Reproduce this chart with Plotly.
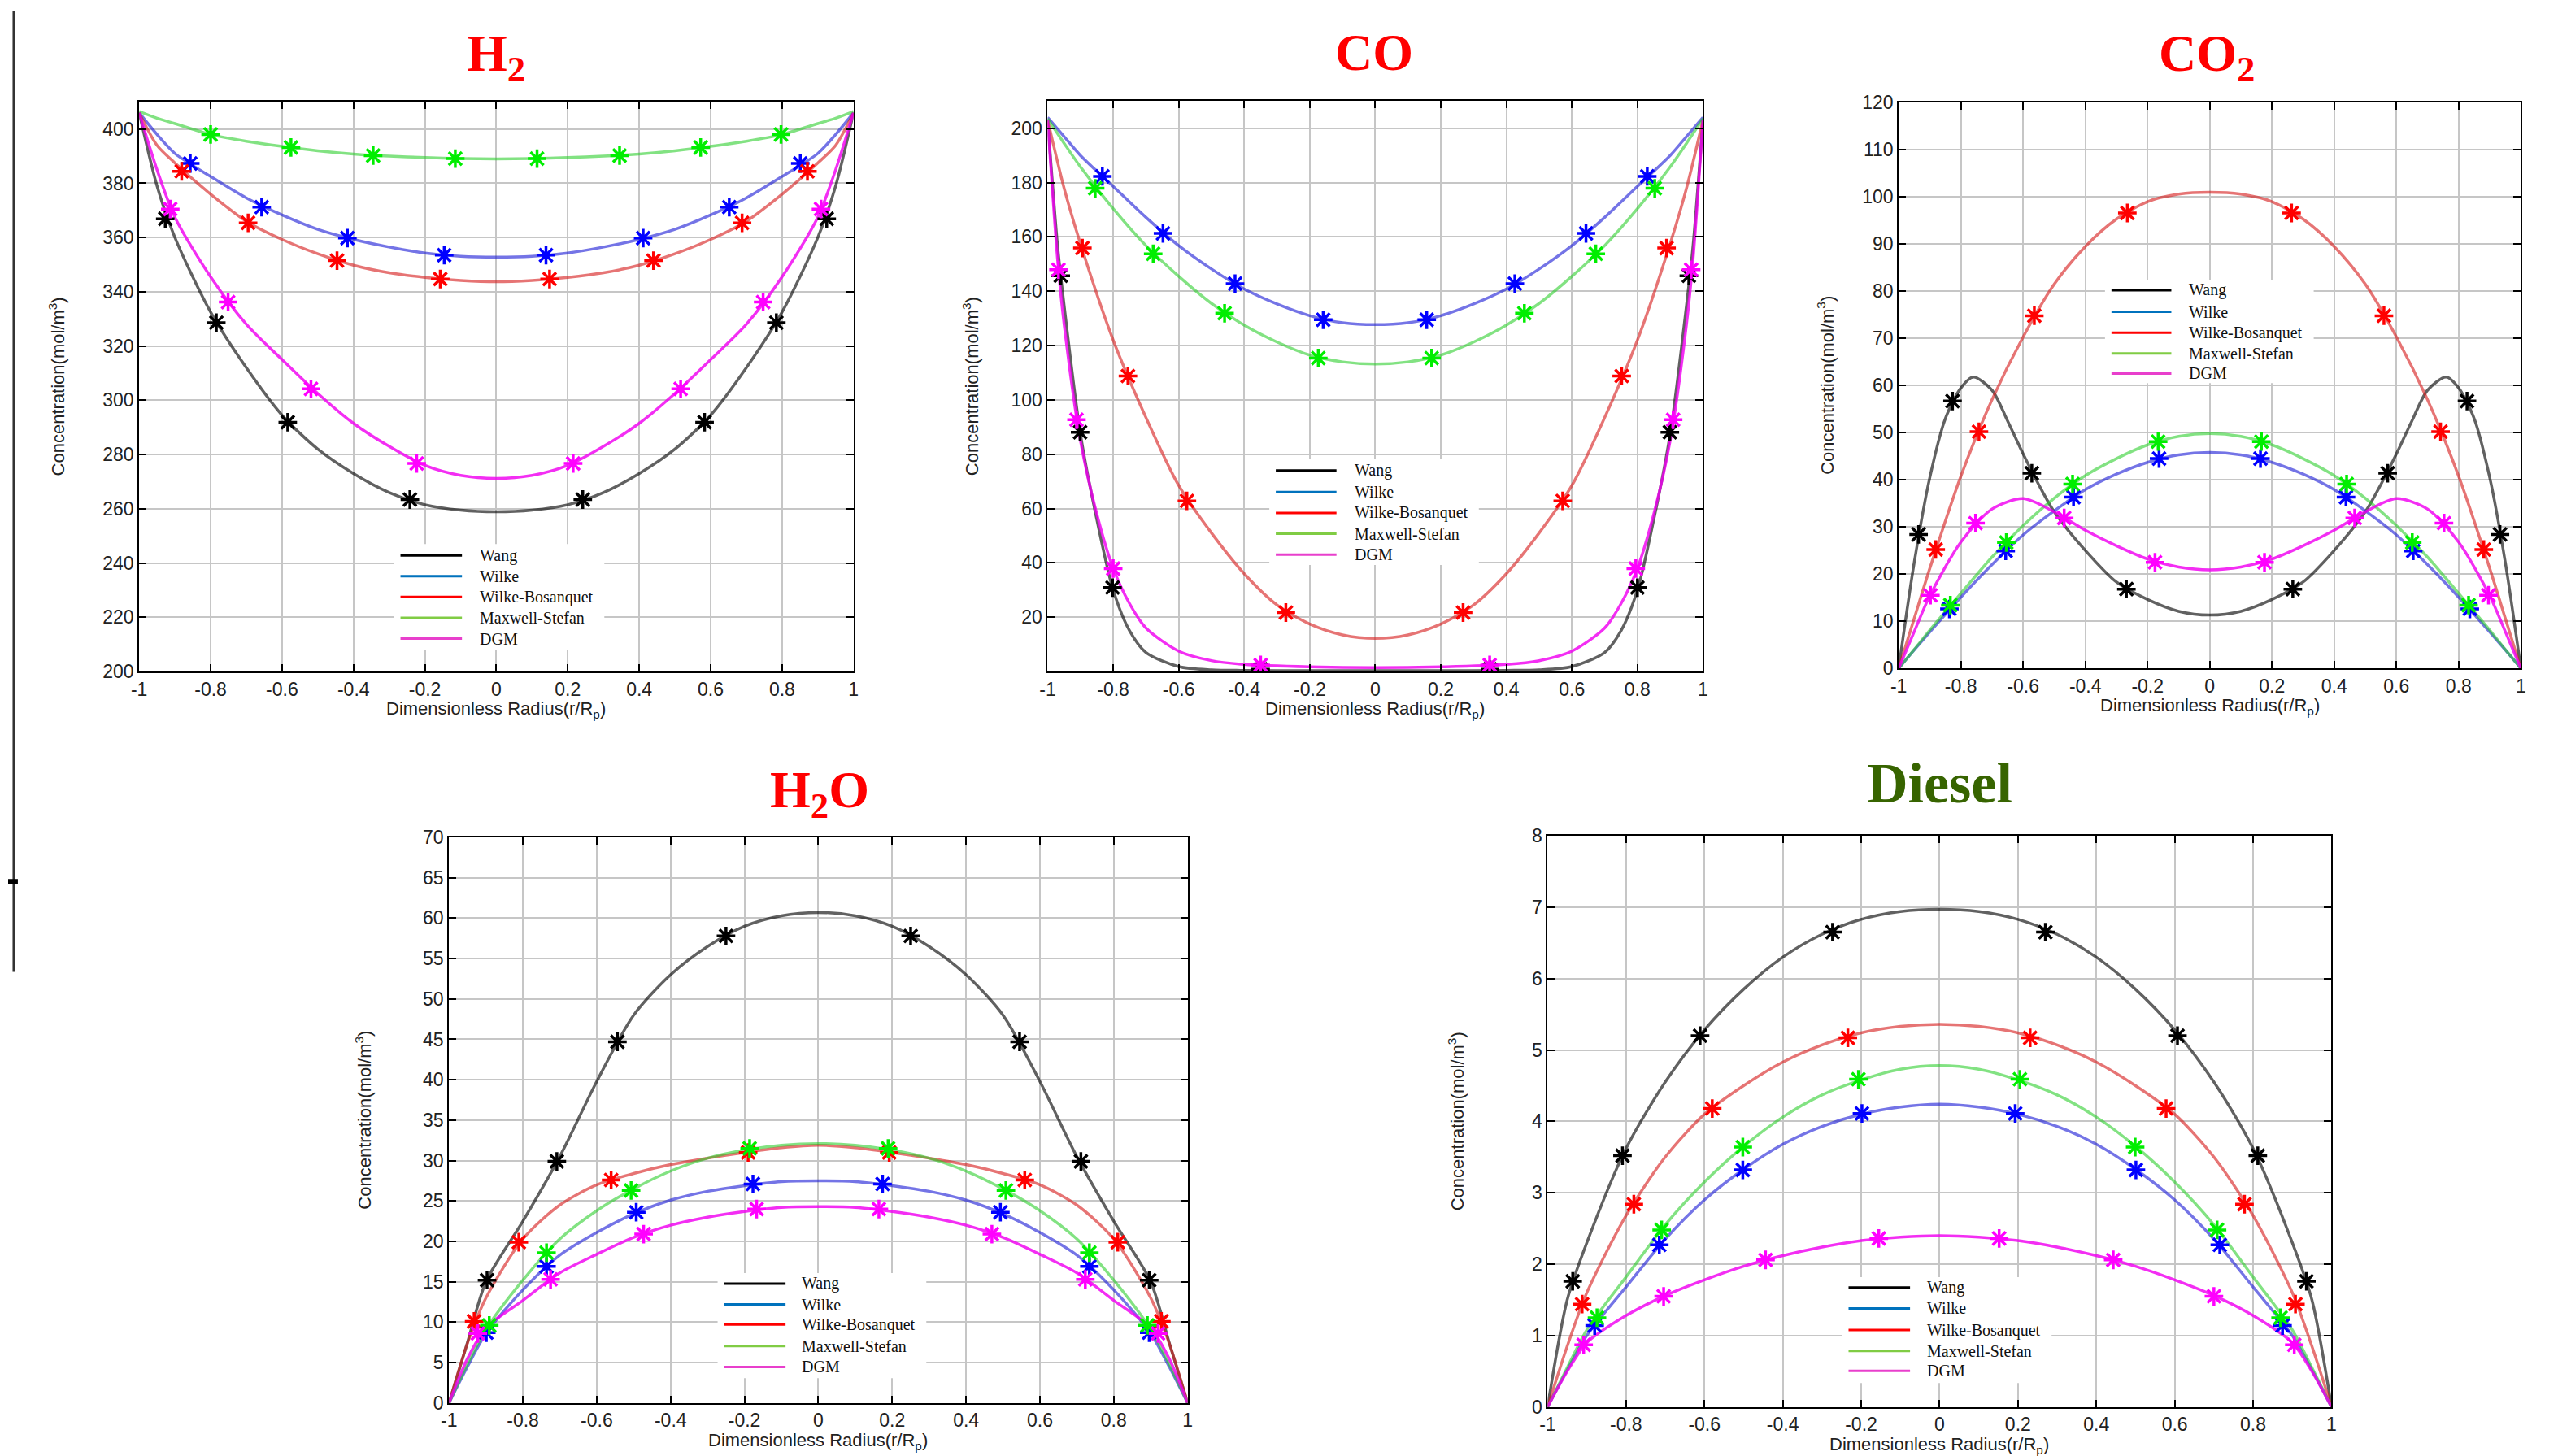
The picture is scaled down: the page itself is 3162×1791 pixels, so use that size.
import plotly.graph_objects as go

W, H = 3162, 1791

# ---------------- data ----------------
SERIES = ["Wang", "Wilke", "Wilke-Bosanquet", "Maxwell-Stefan", "DGM"]

X_STD = [-1, -0.95, -0.9, -0.8, -0.7, -0.6, -0.5, -0.4, -0.3, -0.2, -0.1, 0,
         0.1, 0.2, 0.3, 0.4, 0.5, 0.6, 0.7, 0.8, 0.9, 0.95, 1]
X_CO_EDGE = [-1, -0.97, -0.95, -0.9, -0.85, -0.8, -0.75, -0.7, -0.6, -0.5, -0.4, -0.2, 0,
             0.2, 0.4, 0.5, 0.6, 0.7, 0.75, 0.8, 0.85, 0.9, 0.95, 0.97, 1]
X_CO2_WANG = [-1, -0.95, -0.9, -0.85, -0.8, -0.76, -0.7, -0.65, -0.6, -0.55, -0.5, -0.4, -0.3, -0.2, -0.1, 0,
              0.1, 0.2, 0.3, 0.4, 0.5, 0.55, 0.6, 0.65, 0.7, 0.76, 0.8, 0.85, 0.9, 0.95, 1]

# H2
h2_wang = [406, 379, 360, 332.5, 312, 294.5, 282, 273, 266, 261.5, 259.5, 258.9,
           259.5, 261.5, 266, 273, 282, 294.5, 312, 332.5, 360, 379, 406]
h2_wilke = [406, 398, 391, 382.5, 374.6, 368.3, 363, 359.3, 356.5, 354.3, 353.1, 352.8,
            353.1, 354.3, 356.5, 359.3, 363, 368.3, 374.6, 382.5, 391, 398, 406]
h2_wb = [406, 394, 387.5, 376, 366, 359.3, 354, 349.8, 347, 345.3, 344.2, 343.7,
         344.2, 345.3, 347, 349.8, 354, 359.3, 366, 376, 387.5, 394, 406]
h2_ms = [406.5, 404, 402, 398, 395.5, 393.6, 392, 390.8, 390, 389.5, 389.1, 389,
         389.1, 389.5, 390, 390.8, 392, 393.6, 395.5, 398, 402, 404, 406.5]
h2_dgm = [406, 385, 367.5, 345.5, 328, 315, 302.5, 291.5, 283, 276, 272.3, 271.2,
          272.3, 276, 283, 291.5, 302.5, 315, 328, 345.5, 367.5, 385, 406]

h2_mk_wang_x = [-0.927, -0.784, -0.584, -0.242, 0.242, 0.583, 0.784, 0.925]
h2_mk_wang_y = [366.9, 328.6, 291.9, 263.4, 263.4, 291.9, 328.6, 366.9]
h2_mk_wilke_x = [-0.857, -0.657, -0.417, -0.146, 0.139, 0.411, 0.652, 0.851]
h2_mk_wilke_y = [387.3, 371.2, 359.8, 353.5, 353.5, 359.8, 371.2, 387.3]
h2_mk_wb_x = [-0.881, -0.695, -0.446, -0.157, 0.149, 0.44, 0.688, 0.871]
h2_mk_wb_y = [384.4, 365.4, 351.5, 344.7, 344.7, 351.5, 365.4, 384.4]
h2_mk_ms_x = [-0.8, -0.575, -0.345, -0.115, 0.114, 0.345, 0.572, 0.797]
h2_mk_ms_y = [398, 393.2, 390.2, 389.1, 389.1, 390.2, 393.2, 398]
h2_mk_dgm_x = [-0.913, -0.751, -0.519, -0.223, 0.215, 0.516, 0.747, 0.909]
h2_mk_dgm_y = [370.5, 336.2, 304.2, 276.7, 276.7, 304.2, 336.2, 370.5]

# CO
co_wang = [203, 157, 135, 87.5, 56, 30, 15, 7, 1.8, 0.6, 0.4, 0.3, 0.3,
           0.3, 0.4, 0.6, 1.8, 7, 15, 30, 56, 87.5, 135, 157, 203]
co_wilke = [204, 197, 190, 178.6, 167.2, 156.8, 148.2, 140.8, 135.3, 131, 128.4, 127.7,
            128.4, 131, 135.3, 140.8, 148.2, 156.8, 167.2, 178.6, 190, 197, 204]
co_wb = [203, 178, 157.5, 122, 93.5, 68.5, 51, 36, 24.5, 17.5, 13.5, 12.2,
         13.5, 17.5, 24.5, 36, 51, 68.5, 93.5, 122, 157.5, 178, 203]
co_ms = [203.5, 194.5, 185.8, 170.4, 156.8, 145.5, 135.5, 127.5, 121.3, 116.5, 114, 113.2,
         114, 116.5, 121.3, 127.5, 135.5, 145.5, 156.8, 170.4, 185.8, 194.5, 203.5]
co_dgm = [203, 152, 128, 85, 58, 38, 25, 16, 7.5, 4, 2.6, 1.7, 1.4,
          1.7, 2.6, 4, 7.5, 16, 25, 38, 58, 85, 128, 152, 203]

co_mk_wang_x = [-0.96, -0.901, -0.802, -0.35, 0.35, 0.8, 0.899, 0.957]
co_mk_wang_y = [145.7, 88.1, 30.9, 0.8, 0.8, 30.9, 88.1, 145.7]
co_mk_wilke_x = [-0.833, -0.648, -0.428, -0.159, 0.157, 0.426, 0.643, 0.83]
co_mk_wilke_y = [182.3, 161.3, 142.8, 129.5, 129.5, 142.8, 161.3, 182.3]
co_mk_wb_x = [-0.894, -0.755, -0.575, -0.273, 0.268, 0.572, 0.752, 0.889]
co_mk_wb_y = [155.9, 108.8, 62.8, 21.7, 21.7, 62.8, 108.8, 155.9]
co_mk_ms_x = [-0.855, -0.678, -0.46, -0.174, 0.172, 0.455, 0.673, 0.853]
co_mk_ms_y = [177.9, 153.8, 131.9, 115.4, 115.4, 131.9, 153.8, 177.9]
co_mk_dgm_x = [-0.967, -0.912, -0.8, -0.35, 0.349, 0.795, 0.909, 0.964]
co_mk_dgm_y = [147.9, 92.7, 37.9, 2.4, 2.4, 37.9, 92.7, 147.9]

# CO2
co2_wang = [0, 22.5, 40.5, 53, 59.5, 61.8, 59, 52.5, 45.5, 39, 33.2, 25, 18.3, 14.6, 12.1, 11.3,
            12.1, 14.6, 18.3, 25, 33.2, 39, 45.5, 52.5, 59, 61.8, 59.5, 53, 40.5, 22.5, 0]
co2_wilke = [0, 3.9, 7.7, 15.1, 22, 28.3, 33.4, 37.9, 41.2, 43.7, 45.3, 45.8,
             45.3, 43.7, 41.2, 37.9, 33.4, 28.3, 22, 15.1, 7.7, 3.9, 0]
co2_wb = [0, 10.6, 21.2, 40.8, 57, 70.3, 81.5, 89.5, 95.3, 99, 100.6, 101,
          100.6, 99, 95.3, 89.5, 81.5, 70.3, 57, 40.8, 21.2, 10.6, 0]
co2_ms = [0, 4, 8.1, 15.9, 23.6, 30.3, 36.1, 40.9, 44.5, 47.4, 49.2, 49.8,
          49.2, 47.4, 44.5, 40.9, 36.1, 30.3, 23.6, 15.9, 8.1, 4, 0]
co2_dgm = [0, 7.8, 15.4, 26.8, 33.8, 36, 33.2, 29.3, 26, 23.2, 21.5, 20.9,
           21.5, 23.2, 26, 29.3, 33.2, 36, 33.8, 26.8, 15.4, 7.8, 0]

co2_mk_wang_x = [-0.936, -0.827, -0.572, -0.268, 0.267, 0.572, 0.827, 0.933]
co2_mk_wang_y = [28.4, 56.7, 41.4, 16.8, 16.8, 41.4, 56.7, 28.4]
co2_mk_wilke_x = [-0.837, -0.656, -0.438, -0.163, 0.163, 0.438, 0.654, 0.836]
co2_mk_wilke_y = [12.6, 24.9, 36.3, 44.5, 44.5, 36.3, 24.9, 12.6]
co2_mk_wb_x = [-0.881, -0.742, -0.564, -0.265, 0.263, 0.56, 0.742, 0.881]
co2_mk_wb_y = [25.2, 50.2, 74.8, 96.6, 96.6, 74.8, 50.2, 25.2]
co2_mk_ms_x = [-0.834, -0.654, -0.441, -0.166, 0.166, 0.44, 0.651, 0.832]
co2_mk_ms_y = [13.4, 26.7, 39.1, 48.1, 48.1, 39.1, 26.7, 13.4]
co2_mk_dgm_x = [-0.898, -0.753, -0.468, -0.176, 0.176, 0.466, 0.753, 0.896]
co2_mk_dgm_y = [15.5, 30.8, 31.9, 22.5, 22.5, 31.9, 30.8, 15.5]

# H2O
h2o_wang = [0, 7.5, 15, 22.5, 30.5, 39.8, 48, 53, 56.5, 59, 60.3, 60.7,
            60.3, 59, 56.5, 53, 48, 39.8, 30.5, 22.5, 15, 7.5, 0]
h2o_wilke = [0, 4.5, 8.6, 14, 18.3, 21.1, 23.4, 25.1, 26.2, 26.9, 27.4, 27.5,
             27.4, 26.9, 26.2, 25.1, 23.4, 21.1, 18.3, 14, 8.6, 4.5, 0]
h2o_wb = [0, 7.4, 13, 20.3, 24.5, 27, 28.4, 29.5, 30.3, 31, 31.6, 31.9,
          31.6, 31, 30.3, 29.5, 28.4, 27, 24.5, 20.3, 13, 7.4, 0]
h2o_ms = [0, 4.8, 9.1, 15.2, 20.3, 23.8, 26.5, 28.7, 30.3, 31.3, 31.9, 32.1,
          31.9, 31.3, 30.3, 28.7, 26.5, 23.8, 20.3, 15.2, 9.1, 4.8, 0]
h2o_dgm = [0, 5.5, 9.3, 12.7, 16.1, 18.4, 20.5, 22, 23, 23.7, 24.2, 24.3,
           24.2, 23.7, 23, 22, 20.5, 18.4, 16.1, 12.7, 9.3, 5.5, 0]

h2o_mk_wang_x = [-0.897, -0.708, -0.544, -0.25, 0.25, 0.545, 0.711, 0.896]
h2o_mk_wang_y = [15.2, 29.9, 44.7, 57.8, 57.8, 44.7, 29.9, 15.2]
h2o_mk_wilke_x = [-0.899, -0.736, -0.493, -0.177, 0.174, 0.493, 0.734, 0.896]
h2o_mk_wilke_y = [8.7, 16.9, 23.6, 27.1, 27.1, 23.6, 16.9, 8.7]
h2o_mk_wb_x = [-0.932, -0.811, -0.561, -0.19, 0.192, 0.559, 0.811, 0.929]
h2o_mk_wb_y = [10.1, 19.9, 27.6, 31, 31, 27.6, 19.9, 10.1]
h2o_mk_ms_x = [-0.891, -0.736, -0.507, -0.186, 0.189, 0.508, 0.734, 0.891]
h2o_mk_ms_y = [9.6, 18.6, 26.3, 31.5, 31.5, 26.3, 18.6, 9.6]
h2o_mk_dgm_x = [-0.922, -0.725, -0.473, -0.167, 0.164, 0.47, 0.723, 0.92]
h2o_mk_dgm_y = [8.6, 15.3, 20.9, 24, 24, 20.9, 15.3, 8.6]

# Diesel
ds_wang = [0, 1.5, 2.3, 3.62, 4.55, 5.28, 5.85, 6.3, 6.62, 6.83, 6.94, 6.97,
           6.94, 6.83, 6.62, 6.3, 5.85, 5.28, 4.55, 3.62, 2.3, 1.5, 0]
ds_wilke = [0, 0.52, 1.0, 1.68, 2.35, 2.9, 3.33, 3.68, 3.93, 4.1, 4.2, 4.24,
            4.2, 4.1, 3.93, 3.68, 3.33, 2.9, 2.35, 1.68, 1.0, 0.52, 0]
ds_wb = [0, 0.85, 1.6, 2.68, 3.5, 4.1, 4.5, 4.83, 5.07, 5.24, 5.33, 5.36,
         5.33, 5.24, 5.07, 4.83, 4.5, 4.1, 3.5, 2.68, 1.6, 0.85, 0]
ds_ms = [0, 0.55, 1.08, 1.82, 2.55, 3.15, 3.65, 4.06, 4.37, 4.58, 4.73, 4.78,
         4.73, 4.58, 4.37, 4.06, 3.65, 3.15, 2.55, 1.82, 1.08, 0.55, 0]
ds_dgm = [0, 0.5, 0.9, 1.28, 1.56, 1.78, 1.97, 2.12, 2.24, 2.33, 2.38, 2.4,
          2.38, 2.33, 2.24, 2.12, 1.97, 1.78, 1.56, 1.28, 0.9, 0.5, 0]

ds_mk_wang_x = [-0.936, -0.809, -0.611, -0.273, 0.27, 0.607, 0.812, 0.936]
ds_mk_wang_y = [1.76, 3.52, 5.2, 6.65, 6.65, 5.2, 3.52, 1.76]
ds_mk_wilke_x = [-0.88, -0.715, -0.502, -0.198, 0.193, 0.501, 0.715, 0.875]
ds_mk_wilke_y = [1.14, 2.27, 3.32, 4.11, 4.11, 3.32, 2.27, 1.14]
ds_mk_wb_x = [-0.912, -0.78, -0.58, -0.234, 0.231, 0.578, 0.778, 0.908]
ds_mk_wb_y = [1.44, 2.84, 4.18, 5.17, 5.17, 4.18, 2.84, 1.44]
ds_mk_ms_x = [-0.874, -0.709, -0.502, -0.207, 0.205, 0.499, 0.708, 0.87]
ds_mk_ms_y = [1.25, 2.48, 3.64, 4.59, 4.59, 3.64, 2.48, 1.25]
ds_mk_dgm_x = [-0.908, -0.704, -0.444, -0.155, 0.152, 0.443, 0.7, 0.905]
ds_mk_dgm_y = [0.87, 1.55, 2.06, 2.36, 2.36, 2.06, 1.55, 0.87]

X_TICKS = [-1, -0.8, -0.6, -0.4, -0.2, 0, 0.2, 0.4, 0.6, 0.8, 1]
X_TICKTEXT = ["-1", "-0.8", "-0.6", "-0.4", "-0.2", "0", "0.2", "0.4", "0.6", "0.8", "1"]

# ---------------- styles ----------------
LINE_COL = ["rgba(0,0,0,0.62)", "rgba(30,30,215,0.62)", "rgba(215,30,30,0.62)",
            "rgba(40,205,40,0.58)", "rgba(240,0,240,0.82)"]
MARK_COL = ["#000000", "#0000ff", "#ff0000", "#00ee00", "#ff00ff"]
LEG_COL = ["#000000", "#0072bd", "#ff0000", "#80cc44", "#e83fcc"]

panels = [
    dict(title="H<sub>2</sub>", tcol="#ff0000", tpos=(603, 58), tsize=64,
         box=(162, 1045, 114, 825), yr=[200, 410], yt=list(range(200, 401, 20)),
         ytitle_x=60,
         curves=[(X_STD, h2_wang), (X_STD, h2_wilke), (X_STD, h2_wb), (X_STD, h2_ms), (X_STD, h2_dgm)],
         marks=[(h2_mk_wang_x, h2_mk_wang_y), (h2_mk_wilke_x, h2_mk_wilke_y), (h2_mk_wb_x, h2_mk_wb_y),
                (h2_mk_ms_x, h2_mk_ms_y), (h2_mk_dgm_x, h2_mk_dgm_y)],
         leg=dict(box=(477, 737, 666, 798), lx=(485, 561), tx=581, rows=[680, 706, 732, 758, 784])),
    dict(title="CO", tcol="#ff0000", tpos=(1689, 52), tsize=64,
         box=(1285, 2095, 113, 825), yr=[0, 210], yt=list(range(20, 201, 20)),
         ytitle_x=1190,
         curves=[(X_CO_EDGE, co_wang), (X_STD, co_wilke), (X_STD, co_wb), (X_STD, co_ms), (X_CO_EDGE, co_dgm)],
         marks=[(co_mk_wang_x, co_mk_wang_y), (co_mk_wilke_x, co_mk_wilke_y), (co_mk_wb_x, co_mk_wb_y),
                (co_mk_ms_x, co_mk_ms_y), (co_mk_dgm_x, co_mk_dgm_y)],
         leg=dict(box=(1559, 1818, 560, 692), lx=(1567, 1642), tx=1662, rows=[574, 601, 627, 653, 679])),
    dict(title="CO<sub>2</sub>", tcol="#ff0000", tpos=(2718, 58), tsize=64,
         box=(2337, 3106, 115, 821), yr=[0, 120], yt=list(range(0, 121, 10)),
         ytitle_x=2247,
         curves=[(X_CO2_WANG, co2_wang), (X_STD, co2_wilke), (X_STD, co2_wb), (X_STD, co2_ms), (X_STD, co2_dgm)],
         marks=[(co2_mk_wang_x, co2_mk_wang_y), (co2_mk_wilke_x, co2_mk_wilke_y), (co2_mk_wb_x, co2_mk_wb_y),
                (co2_mk_ms_x, co2_mk_ms_y), (co2_mk_dgm_x, co2_mk_dgm_y)],
         leg=dict(box=(2592, 2850, 336, 465), lx=(2600, 2674), tx=2694, rows=[349, 376, 402, 428, 453])),
    dict(title="H<sub>2</sub>O", tcol="#ff0000", tpos=(1003, 977), tsize=64,
         box=(545, 1458, 1032, 1738), yr=[0, 70], yt=list(range(0, 71, 5)),
         ytitle_x=439,
         curves=[(X_STD, h2o_wang), (X_STD, h2o_wilke), (X_STD, h2o_wb), (X_STD, h2o_ms), (X_STD, h2o_dgm)],
         marks=[(h2o_mk_wang_x, h2o_mk_wang_y), (h2o_mk_wilke_x, h2o_mk_wilke_y), (h2o_mk_wb_x, h2o_mk_wb_y),
                (h2o_mk_ms_x, h2o_mk_ms_y), (h2o_mk_dgm_x, h2o_mk_dgm_y)],
         leg=dict(box=(877, 1135, 1576, 1707), lx=(885, 961), tx=979, rows=[1589, 1615, 1640, 1667, 1693])),
    dict(title="Diesel", tcol="#376400", tpos=(2388, 965), tsize=70,
         box=(1903, 2872, 1030, 1743), yr=[0, 8], yt=list(range(0, 9, 1)),
         ytitle_x=1790,
         curves=[(X_STD, ds_wang), (X_STD, ds_wilke), (X_STD, ds_wb), (X_STD, ds_ms), (X_STD, ds_dgm)],
         marks=[(ds_mk_wang_x, ds_mk_wang_y), (ds_mk_wilke_x, ds_mk_wilke_y), (ds_mk_wb_x, ds_mk_wb_y),
                (ds_mk_ms_x, ds_mk_ms_y), (ds_mk_dgm_x, ds_mk_dgm_y)],
         leg=dict(box=(2267, 2526, 1581, 1713), lx=(2275, 2351), tx=2370, rows=[1594, 1620, 1647, 1673, 1698])),
]


def fx(px):
    return px / W


def fy(py):
    return 1 - py / H


fig = go.Figure()
shapes = []
annotations = []
layout_axes = {}
SANS = "Liberation Sans, Arial, sans-serif"
SERIF = "Liberation Serif, Times New Roman, serif"

for i, p in enumerate(panels):
    n = "" if i == 0 else str(i + 1)
    xa, ya = "x" + n, "y" + n
    x0, x1, y0, y1 = p["box"]
    common = dict(showline=True, linecolor="black", linewidth=2, mirror="ticks",
                  ticks="inside", ticklen=9, tickwidth=2, tickcolor="black",
                  showgrid=True, gridcolor="#c6c6c6", gridwidth=2, zeroline=False,
                  tickfont=dict(family=SANS, size=23, color="#222222"))
    layout_axes["xaxis" + n] = dict(domain=[fx(x0), fx(x1)], anchor=ya, range=[-1, 1],
                                    tickvals=X_TICKS, ticktext=X_TICKTEXT, **common)
    layout_axes["yaxis" + n] = dict(domain=[fy(y1), fy(y0)], anchor=xa, range=p["yr"],
                                    tickvals=p["yt"], **common)
    # curves
    for k, (cx, cy) in enumerate(p["curves"]):
        fig.add_trace(go.Scatter(x=cx, y=cy, mode="lines", xaxis=xa, yaxis=ya,
                                 line=dict(color=LINE_COL[k], width=3.5, shape="spline", smoothing=0.8),
                                 name=SERIES[k], showlegend=False))
    for k, (mx, my) in enumerate(p["marks"]):
        fig.add_trace(go.Scatter(x=mx, y=my, mode="markers", xaxis=xa, yaxis=ya,
                                 marker=dict(symbol="asterisk-open", size=19, color=MARK_COL[k],
                                             line=dict(color=MARK_COL[k], width=3.5)),
                                 name=SERIES[k], showlegend=False))
    # titles
    annotations.append(dict(text="<b>%s</b>" % p["title"], x=fx(p["tpos"][0]), y=fy(p["tpos"][1]),
                            xref="paper", yref="paper", showarrow=False, xanchor="center", yanchor="middle",
                            font=dict(family=SERIF, size=p["tsize"], color=p["tcol"])))
    annotations.append(dict(text="Dimensionless Radius(r/R<sub>p</sub>)", x=fx((x0 + x1) / 2), y=fy(y1 + 48),
                            xref="paper", yref="paper", showarrow=False, xanchor="center", yanchor="middle",
                            font=dict(family=SANS, size=22, color="#222222")))
    annotations.append(dict(text="Concentration(mol/m<sup>3</sup>)", x=fx(p["ytitle_x"]), y=fy((y0 + y1) / 2),
                            xref="paper", yref="paper", showarrow=False, xanchor="center", yanchor="middle",
                            textangle=-90, font=dict(family=SANS, size=22, color="#222222")))
    # legend (drawn manually to mimic the original)
    lg = p["leg"]
    bx0, bx1, by0, by1 = lg["box"]
    shapes.append(dict(type="rect", xref="paper", yref="paper", x0=fx(bx0), x1=fx(bx1),
                       y0=fy(by1), y1=fy(by0), fillcolor="white", line=dict(width=0), layer="above"))
    for k, ry in enumerate(lg["rows"]):
        shapes.append(dict(type="line", xref="paper", yref="paper", x0=fx(lg["lx"][0]), x1=fx(lg["lx"][1]),
                           y0=fy(ry), y1=fy(ry), line=dict(color=LEG_COL[k], width=3), layer="above"))
        annotations.append(dict(text=SERIES[k], x=fx(lg["tx"]), y=fy(ry), xref="paper", yref="paper",
                                showarrow=False, xanchor="left", yanchor="middle",
                                font=dict(family=SERIF, size=20, color="#111111")))

# page edge line of the original scan
shapes.append(dict(type="line", xref="paper", yref="paper", x0=fx(7), x1=fx(7), y0=fy(0), y1=fy(1200),
                   line=dict(color="#333333", width=3)))
shapes.append(dict(type="line", xref="paper", yref="paper", x0=fx(0), x1=fx(12), y0=fy(1087), y1=fy(1087),
                   line=dict(color="#000000", width=6)))

fig.update_layout(width=W, height=H, margin=dict(l=0, r=0, t=0, b=0),
                  paper_bgcolor="white", plot_bgcolor="white", showlegend=False,
                  shapes=shapes, annotations=annotations, **layout_axes)

fig.write_html("out.html")
